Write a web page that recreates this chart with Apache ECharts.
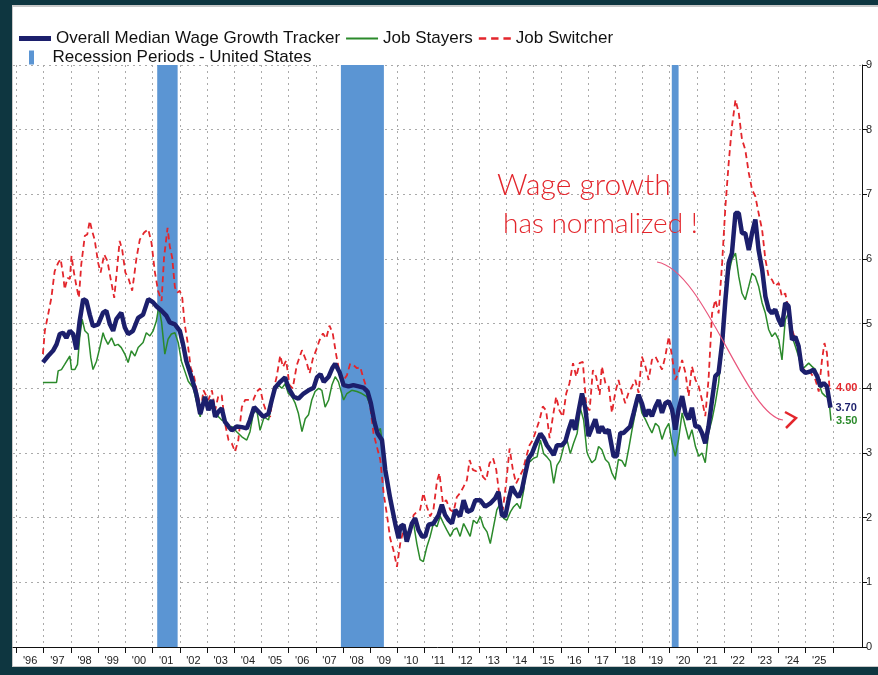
<!DOCTYPE html>
<html>
<head>
  <meta charset="utf-8">
  <title>Median Wage Growth Tracker</title>
  <script src="https://cdn.jsdelivr.net/npm/echarts@6.0.0/dist/echarts.min.js"></script>
  <style>
    html, body { margin: 0; padding: 0; }
    body { width: 878px; height: 675px; background: #0e3640; position: relative; overflow: hidden; }
    #paper { position: absolute; left: 12px; top: 5px; right: 0; bottom: 8px; background: #fff; border-top: 2px solid #c9c9c9; border-left: 1px solid #c9c9c9; border-bottom: 1px solid #c9c9c9; }
    #chart { position: absolute; left: 0; top: 0; width: 878px; height: 675px; }
  </style>
</head>
<body>
  <div id="paper"></div>
  <div id="chart"></div>

  <script>
    // valores (anio decimal, %)
    const overall = [
      [1996.97,4.40],[1997.16,4.50],[1997.34,4.58],[1997.47,4.68],[1997.59,4.84],[1997.71,4.86],[1997.83,4.78],[1997.96,4.89],
      [1998.08,4.84],[1998.20,4.60],[1998.32,5.04],[1998.45,5.38],[1998.57,5.35],[1998.69,5.14],[1998.81,4.96],[1999.00,4.99],
      [1999.18,5.17],[1999.30,5.20],[1999.43,4.99],[1999.55,4.89],[1999.67,5.07],[1999.85,5.17],[1999.98,4.94],[2000.10,4.84],
      [2000.28,4.89],[2000.47,5.09],[2000.65,5.14],[2000.84,5.38],[2001.02,5.33],[2001.14,5.27],[2001.33,5.20],[2001.51,5.12],
      [2001.63,5.02],[2001.82,4.99],[2002.00,4.89],[2002.12,4.68],[2002.24,4.42],[2002.43,4.17],[2002.61,3.91],[2002.75,3.60],
      [2002.93,3.87],[2003.05,3.66],[2003.18,3.82],[2003.30,3.56],[2003.42,3.64],[2003.54,3.69],[2003.66,3.48],[2003.79,3.41],
      [2003.91,3.35],[2004.09,3.41],[2004.28,3.40],[2004.46,3.38],[2004.58,3.51],[2004.73,3.71],[2004.89,3.64],[2005.07,3.56],
      [2005.26,3.61],[2005.38,3.82],[2005.50,4.01],[2005.69,4.10],[2005.87,4.17],[2005.99,4.01],[2006.18,3.87],[2006.36,3.84],
      [2006.55,3.92],[2006.73,3.97],[2006.92,4.01],[2007.04,4.17],[2007.17,4.22],[2007.29,4.10],[2007.47,4.18],[2007.60,4.31],
      [2007.71,4.38],[2007.87,4.25],[2008.02,4.05],[2008.20,4.03],[2008.38,4.05],[2008.57,4.03],[2008.75,4.01],[2008.90,3.95],
      [2009.02,3.77],[2009.15,3.48],[2009.27,3.30],[2009.43,3.20],[2009.55,2.74],[2009.73,2.30],[2009.92,1.90],[2010.04,1.68],
      [2010.10,1.86],[2010.22,1.89],[2010.34,1.63],[2010.53,1.91],[2010.65,1.99],[2010.77,1.81],[2010.90,1.71],[2011.02,1.71],
      [2011.14,1.89],[2011.32,1.91],[2011.51,2.04],[2011.63,2.20],[2011.75,2.04],[2011.88,1.96],[2012.00,1.91],[2012.12,2.12],
      [2012.30,2.02],[2012.43,2.27],[2012.57,2.09],[2012.73,2.12],[2012.86,2.27],[2013.04,2.27],[2013.22,2.17],[2013.41,2.22],
      [2013.59,2.30],[2013.71,2.40],[2013.84,2.04],[2013.96,2.02],[2014.08,2.27],[2014.20,2.48],[2014.33,2.38],[2014.45,2.32],
      [2014.57,2.43],[2014.70,2.69],[2014.82,2.92],[2014.94,2.99],[2015.06,3.12],[2015.25,3.30],[2015.37,3.23],[2015.49,3.12],
      [2015.61,3.05],[2015.74,2.97],[2015.86,3.12],[2016.04,3.12],[2016.17,3.18],[2016.29,3.36],[2016.41,3.51],[2016.53,3.36],
      [2016.66,3.66],[2016.78,3.92],[2016.90,3.70],[2017.02,3.26],[2017.27,3.52],[2017.39,3.31],[2017.51,3.41],[2017.64,3.31],
      [2017.76,3.36],[2017.94,2.95],[2018.06,2.95],[2018.19,3.31],[2018.31,3.31],[2018.43,3.36],[2018.55,3.41],[2018.68,3.62],
      [2018.80,3.82],[2018.86,3.90],[2018.98,3.77],[2019.11,3.57],[2019.23,3.67],[2019.35,3.57],[2019.48,3.72],[2019.60,3.82],
      [2019.72,3.62],[2019.84,3.77],[2019.97,3.80],[2020.09,3.67],[2020.21,3.36],[2020.33,3.67],[2020.46,3.88],[2020.58,3.62],
      [2020.70,3.52],[2020.82,3.70],[2020.95,3.41],[2021.07,3.41],[2021.19,3.31],[2021.31,3.15],[2021.43,3.41],[2021.56,3.82],
      [2021.68,4.19],[2021.80,4.24],[2021.93,4.70],[2022.05,5.37],[2022.17,5.94],[2022.29,6.09],[2022.42,6.71],[2022.54,6.71],
      [2022.66,6.40],[2022.78,6.40],[2022.91,6.14],[2023.03,6.40],[2023.15,6.61],[2023.27,6.14],[2023.40,5.84],[2023.52,5.42],
      [2023.64,5.22],[2023.76,5.16],[2023.88,5.22],[2024.01,5.06],[2024.13,4.96],[2024.25,5.32],[2024.37,5.27],[2024.50,4.75],
      [2024.62,4.80],[2024.74,4.65],[2024.86,4.29],[2024.99,4.24],[2025.17,4.26],[2025.29,4.29],[2025.42,4.19],[2025.54,4.03],
      [2025.66,4.08],[2025.78,4.03],[2025.91,3.70]
    ];

    const stayers = [
      [1996.97,4.09],[1997.47,4.09],[1997.53,4.27],[1997.65,4.29],[1997.77,4.37],[1997.96,4.50],[1998.02,4.29],[1998.14,4.29],
      [1998.24,4.37],[1998.32,4.78],[1998.41,5.07],[1998.51,4.89],[1998.63,4.84],[1998.73,4.47],[1998.81,4.29],[1998.94,4.42],
      [1999.06,4.63],[1999.18,4.86],[1999.24,4.78],[1999.36,4.68],[1999.49,4.78],[1999.61,4.66],[1999.73,4.68],[1999.85,4.63],
      [1999.98,4.53],[2000.10,4.40],[2000.22,4.58],[2000.35,4.50],[2000.47,4.63],[2000.65,4.71],[2000.77,4.86],[2000.90,4.81],
      [2001.02,4.89],[2001.14,5.04],[2001.23,5.27],[2001.33,5.02],[2001.45,4.53],[2001.57,4.76],[2001.69,4.84],[2001.82,4.86],
      [2001.94,4.71],[2002.06,4.42],[2002.18,4.27],[2002.31,4.11],[2002.49,4.01],[2002.61,3.80],[2002.75,3.56],[2002.87,3.87],
      [2002.99,3.71],[2003.11,3.82],[2003.30,3.66],[2003.42,3.56],[2003.54,3.51],[2003.66,3.48],[2003.79,3.38],[2003.91,3.41],
      [2004.09,3.33],[2004.28,3.25],[2004.46,3.20],[2004.58,3.33],[2004.70,3.61],[2004.83,3.66],[2004.95,3.35],[2005.10,3.56],
      [2005.26,3.51],[2005.38,3.77],[2005.50,4.02],[2005.63,4.05],[2005.75,4.00],[2005.87,4.07],[2005.99,3.92],[2006.12,3.87],
      [2006.24,3.77],[2006.36,3.61],[2006.49,3.33],[2006.61,3.53],[2006.73,3.59],[2006.85,3.82],[2006.97,3.95],[2007.10,4.00],
      [2007.22,3.97],[2007.34,3.71],[2007.47,3.82],[2007.59,4.05],[2007.71,4.18],[2007.83,4.10],[2007.95,3.92],[2008.02,3.82],
      [2008.14,3.92],[2008.32,3.97],[2008.51,3.95],[2008.69,3.92],[2008.87,3.87],[2009.00,3.74],[2009.12,3.51],[2009.24,3.30],
      [2009.37,3.38],[2009.49,3.00],[2009.61,2.63],[2009.73,2.35],[2009.85,2.05],[2009.98,1.85],[2010.10,1.86],[2010.22,1.81],
      [2010.34,1.76],[2010.47,1.81],[2010.59,1.91],[2010.71,1.60],[2010.83,1.35],[2010.95,1.32],[2011.08,1.55],[2011.20,1.71],
      [2011.32,1.91],[2011.45,1.86],[2011.57,2.02],[2011.69,1.91],[2011.81,1.81],[2011.94,1.71],[2012.06,1.81],[2012.18,1.84],
      [2012.30,1.71],[2012.43,1.91],[2012.55,1.81],[2012.67,1.71],[2012.79,1.96],[2012.92,1.91],[2013.04,2.02],[2013.16,1.86],
      [2013.29,1.78],[2013.41,1.60],[2013.53,1.86],[2013.65,2.12],[2013.78,2.22],[2013.90,1.99],[2014.02,1.96],[2014.15,2.09],
      [2014.27,2.17],[2014.39,2.22],[2014.51,2.14],[2014.64,2.43],[2014.76,2.84],[2014.88,2.87],[2015.00,2.92],[2015.13,2.94],
      [2015.25,3.20],[2015.37,2.99],[2015.49,2.94],[2015.62,2.87],[2015.74,2.53],[2015.86,2.81],[2015.98,2.89],[2016.11,3.10],
      [2016.23,3.20],[2016.35,2.99],[2016.47,3.15],[2016.60,3.30],[2016.72,3.69],[2016.84,3.51],[2016.96,3.02],[2017.02,2.95],
      [2017.14,2.85],[2017.27,2.90],[2017.39,3.10],[2017.51,3.05],[2017.64,2.90],[2017.76,2.85],[2017.88,2.69],[2018.00,2.59],
      [2018.12,2.90],[2018.25,2.88],[2018.37,2.79],[2018.49,3.05],[2018.62,3.36],[2018.74,3.62],[2018.86,3.88],[2018.98,3.62],
      [2019.11,3.52],[2019.23,3.41],[2019.35,3.31],[2019.48,3.46],[2019.60,3.41],[2019.72,3.21],[2019.84,3.36],[2019.97,3.46],
      [2020.09,3.15],[2020.21,2.95],[2020.33,3.21],[2020.46,3.62],[2020.58,3.41],[2020.70,3.21],[2020.82,3.36],[2020.95,3.10],
      [2021.07,2.95],[2021.19,3.00],[2021.31,2.85],[2021.43,3.31],[2021.56,3.52],[2021.68,3.77],[2021.80,4.08],[2021.93,4.65],
      [2022.05,5.42],[2022.17,5.78],[2022.29,5.99],[2022.42,6.09],[2022.54,5.73],[2022.66,5.47],[2022.78,5.37],[2022.91,5.58],
      [2023.03,5.78],[2023.15,5.73],[2023.27,5.58],[2023.40,5.32],[2023.52,5.16],[2023.64,4.91],[2023.76,4.80],[2023.88,4.86],
      [2024.01,4.75],[2024.13,4.44],[2024.25,5.06],[2024.37,5.16],[2024.50,4.80],[2024.62,4.65],[2024.74,4.49],[2024.86,4.29],
      [2024.99,4.34],[2025.11,4.39],[2025.23,4.34],[2025.36,4.29],[2025.48,4.08],[2025.60,3.93],[2025.72,3.88],[2025.85,3.85],
      [2025.93,3.50]
    ];

    const switchers = [
      [1996.97,4.53],[1997.04,4.89],[1997.16,5.14],[1997.28,5.40],[1997.40,5.81],[1997.53,5.94],[1997.62,6.00],[1997.71,5.76],
      [1997.77,5.53],[1997.87,5.71],[1997.96,5.69],[1998.02,6.05],[1998.11,5.79],[1998.20,5.58],[1998.29,5.40],[1998.38,5.92],
      [1998.51,6.36],[1998.60,6.38],[1998.69,6.59],[1998.78,6.43],[1998.87,6.30],[1999.00,5.94],[1999.09,5.79],[1999.22,6.07],
      [1999.34,5.97],[1999.46,5.69],[1999.59,5.40],[1999.68,5.79],[1999.79,6.28],[1999.88,6.15],[2000.00,5.79],[2000.12,5.69],
      [2000.25,5.51],[2000.41,6.02],[2000.53,6.30],[2000.69,6.41],[2000.84,6.46],[2000.96,6.25],[2001.08,5.81],[2001.20,5.51],
      [2001.33,5.35],[2001.42,6.02],[2001.55,6.48],[2001.63,6.20],[2001.72,6.02],[2001.82,5.56],[2001.91,5.48],[2002.00,5.51],
      [2002.09,5.40],[2002.18,4.99],[2002.28,4.73],[2002.40,4.32],[2002.53,4.17],[2002.65,3.91],[2002.78,3.70],[2002.87,3.97],
      [2003.05,3.82],[2003.18,3.97],[2003.30,3.66],[2003.42,3.89],[2003.54,3.89],[2003.66,3.46],[2003.79,3.20],[2003.91,3.15],
      [2004.03,3.02],[2004.15,3.20],[2004.28,3.71],[2004.40,3.82],[2004.56,3.82],[2004.70,3.82],[2004.83,3.95],[2004.95,4.00],
      [2005.07,3.77],[2005.20,3.61],[2005.32,3.56],[2005.44,3.97],[2005.56,4.18],[2005.69,4.51],[2005.79,4.33],[2005.91,4.43],
      [2006.03,4.05],[2006.15,4.00],[2006.30,4.36],[2006.49,4.59],[2006.64,4.43],[2006.77,4.23],[2006.89,4.46],[2007.01,4.59],
      [2007.13,4.74],[2007.26,4.85],[2007.38,4.77],[2007.50,4.97],[2007.62,4.85],[2007.75,4.51],[2007.87,4.25],[2008.02,4.13],
      [2008.14,4.20],[2008.26,4.38],[2008.38,4.36],[2008.51,4.31],[2008.63,4.33],[2008.75,4.15],[2008.87,4.00],[2009.00,3.71],
      [2009.12,3.30],[2009.24,3.10],[2009.37,2.89],[2009.49,2.38],[2009.61,2.05],[2009.73,1.68],[2009.85,1.50],[2009.98,1.24],
      [2010.10,1.60],[2010.22,1.81],[2010.34,1.68],[2010.47,1.76],[2010.59,2.04],[2010.71,2.09],[2010.83,2.12],[2010.95,2.38],
      [2011.08,2.17],[2011.20,2.02],[2011.32,2.12],[2011.45,2.56],[2011.54,2.69],[2011.67,2.22],[2011.79,2.27],[2011.94,2.12],
      [2012.06,2.09],[2012.18,2.32],[2012.30,2.38],[2012.43,2.48],[2012.55,2.58],[2012.65,2.89],[2012.77,2.74],[2012.89,2.72],
      [2013.02,2.79],[2013.14,2.63],[2013.26,2.58],[2013.38,2.84],[2013.51,2.92],[2013.63,2.74],[2013.75,2.32],[2013.87,2.12],
      [2013.99,2.53],[2014.12,3.07],[2014.24,2.74],[2014.36,2.53],[2014.48,2.63],[2014.61,2.74],[2014.73,2.94],[2014.85,3.12],
      [2014.97,3.20],[2015.10,3.36],[2015.22,3.51],[2015.34,3.72],[2015.46,3.66],[2015.59,3.23],[2015.71,3.56],[2015.83,3.87],
      [2015.95,3.66],[2016.08,3.56],[2016.20,3.92],[2016.32,4.08],[2016.45,4.39],[2016.57,4.18],[2016.69,4.39],[2016.81,4.41],
      [2016.94,3.72],[2017.06,3.66],[2017.18,4.28],[2017.30,4.18],[2017.43,3.90],[2017.51,4.34],[2017.64,4.08],[2017.76,4.03],
      [2017.88,3.62],[2018.00,3.93],[2018.12,4.13],[2018.25,3.93],[2018.37,3.77],[2018.49,3.93],[2018.62,4.03],[2018.74,4.13],
      [2018.86,3.93],[2018.98,4.49],[2019.11,4.34],[2019.23,4.13],[2019.35,4.44],[2019.48,4.49],[2019.60,4.39],[2019.72,4.29],
      [2019.84,4.49],[2019.97,4.80],[2020.09,4.49],[2020.21,4.13],[2020.33,4.24],[2020.46,4.44],[2020.58,4.24],[2020.70,3.88],
      [2020.82,4.34],[2020.95,4.13],[2021.07,4.03],[2021.19,3.82],[2021.31,3.57],[2021.43,4.13],[2021.56,5.16],[2021.68,5.37],
      [2021.80,5.16],[2021.93,5.94],[2022.05,6.81],[2022.17,7.48],[2022.29,8.05],[2022.42,8.46],[2022.54,8.26],[2022.66,7.85],
      [2022.78,7.69],[2022.91,7.33],[2023.03,7.07],[2023.15,6.97],[2023.27,6.71],[2023.40,6.45],[2023.52,5.99],[2023.64,5.73],
      [2023.76,5.68],[2023.88,5.58],[2024.01,5.63],[2024.13,5.42],[2024.25,5.47],[2024.37,5.22],[2024.50,4.91],[2024.62,4.75],
      [2024.74,4.60],[2024.86,4.39],[2024.99,4.24],[2025.11,4.29],[2025.23,4.21],[2025.36,4.13],[2025.48,3.95],[2025.60,4.44],
      [2025.69,4.70],[2025.78,4.55],[2025.88,3.98],[2025.93,4.00]
    ];

    // recesiones (NBER)
    const recStart = [2001.17, 2007.92, 2020.08];
    const recEnd = [2001.92, 2009.50, 2020.33];

    // marcas del eje x
    const yearTicks = [];
    for (let y = 1996; y <= 2026; y++) yearTicks.push(y);
    const yearLabels = yearTicks.slice(0, -1).map(y => y + 0.5);

    const nombres = {
      overall: 'Overall Median Wage Growth Tracker',
      stayers: 'Job Stayers',
      switchers: 'Job Switcher',
      rec: 'Recession Periods - United States'
    };

    const colNavy = '#1c1f6c';
    const colGreen = '#2b8a2b';
    const colRed = '#e3262c';
    const colRec = '#5b95d3';

    var myChart = echarts.init(document.getElementById('chart'));

    function etiquetaFinal(color) {
      return {
        show: true,
        formatter: p => p.value[1].toFixed(2),
        color: color,
        fontWeight: 'bold',
        fontSize: 11,
        fontFamily: 'Liberation Sans',
        distance: 5
      };
    }

    const textoLeyenda = { fontSize: 17, color: '#111', fontFamily: 'Liberation Sans' };

    var option = {
      backgroundColor: 'transparent',
      animation: false,
      textStyle: { fontFamily: 'Liberation Sans' },
      grid: { left: 13, right: 16, top: 65, bottom: 28 },
      legend: [
        {
          left: 14, top: 25,
          itemWidth: 32, itemHeight: 14, itemGap: 6,
          textStyle: textoLeyenda,
          data: [
            { name: nombres.overall, icon: 'path://M0,0H32V5H0Z' },
            { name: nombres.stayers, icon: 'path://M0,0H26V1.6H0Z' },
            { name: nombres.switchers, icon: 'path://M0,0H6V2H0Z M10,0H16V2H10Z M20,0H26V2H20Z' }
          ]
        },
        {
          left: 24, top: 44,
          itemWidth: 32, itemHeight: 14,
          textStyle: textoLeyenda,
          data: [{ name: nombres.rec, icon: 'path://M0,0H5V14H0Z' }]
        }
      ],
      xAxis: {
        type: 'value',
        min: 1995.87,
        max: 2027.07,
        axisLine: { show: true, lineStyle: { color: '#111', width: 1 } },
        axisTick: { show: true, customValues: yearTicks, length: 6, lineStyle: { color: '#111' } },
        axisLabel: {
          customValues: yearLabels,
          formatter: v => "'" + String(Math.floor(v)).slice(2),
          fontSize: 11, color: '#222', margin: 8
        },
        splitLine: { show: true, lineStyle: { color: '#aaa', type: [2, 4], width: 1 } }
      },
      yAxis: {
        type: 'value',
        position: 'right',
        min: 0, max: 9, interval: 1,
        axisLine: { show: true, lineStyle: { color: '#111', width: 1 } },
        axisTick: { show: true, length: 5, lineStyle: { color: '#111' } },
        axisLabel: { fontSize: 11, color: '#222', margin: 4 },
        splitLine: { show: true, lineStyle: { color: '#aaa', type: [2, 4], width: 1 } }
      },
      graphic: [
        {
          type: 'text', left: 497, top: 170, z: 50,
          style: { text: 'Wage growth', fill: colRed, fontSize: 30, fontFamily: 'Lato', fontWeight: 300 }
        },
        {
          type: 'text', left: 503, top: 210, z: 50,
          style: { text: 'has normalized !', fill: colRed, fontSize: 28, fontFamily: 'Lato', fontWeight: 300 }
        },
        {
          type: 'bezierCurve', z: 50,
          shape: { x1: 657, y1: 262, cpx1: 705, cpy1: 270, cpx2: 745, cpy2: 415, x2: 783, y2: 420 },
          style: { stroke: '#e9557c', lineWidth: 1.2, fill: null }
        },
        {
          type: 'polyline', z: 50,
          shape: { points: [[785, 412], [796, 418], [786, 428]] },
          style: { stroke: colRed, lineWidth: 2.5, fill: null }
        }
      ],
      series: [
        {
          name: nombres.rec,
          type: 'custom',
          itemStyle: { color: colRec },
          data: recStart.map((s, i) => [s, recEnd[i]]),
          encode: { x: [0, 1] },
          z: 1,
          renderItem: function (params, api) {
            const x0 = api.coord([api.value(0), 0])[0];
            const x1 = api.coord([api.value(1), 0])[0];
            const cs = params.coordSys;
            return {
              type: 'rect',
              shape: { x: x0, y: cs.y, width: x1 - x0, height: cs.height },
              style: { fill: colRec }
            };
          }
        },
        {
          name: nombres.switchers,
          type: 'line',
          data: switchers,
          showSymbol: false,
          symbol: 'none',
          z: 3,
          itemStyle: { color: colRed },
          lineStyle: { color: colRed, width: 1.8, type: [6, 4] },
          endLabel: etiquetaFinal(colRed)
        },
        {
          name: nombres.stayers,
          type: 'line',
          data: stayers,
          showSymbol: false,
          symbol: 'none',
          z: 4,
          itemStyle: { color: colGreen },
          lineStyle: { color: colGreen, width: 1.5 },
          endLabel: etiquetaFinal(colGreen)
        },
        {
          name: nombres.overall,
          type: 'line',
          data: overall,
          showSymbol: false,
          symbol: 'none',
          z: 5,
          itemStyle: { color: colNavy },
          lineStyle: { color: colNavy, width: 4.5 },
          endLabel: etiquetaFinal(colNavy)
        }
      ]
    };

    myChart.setOption(option);
  </script>
</body>
</html>
